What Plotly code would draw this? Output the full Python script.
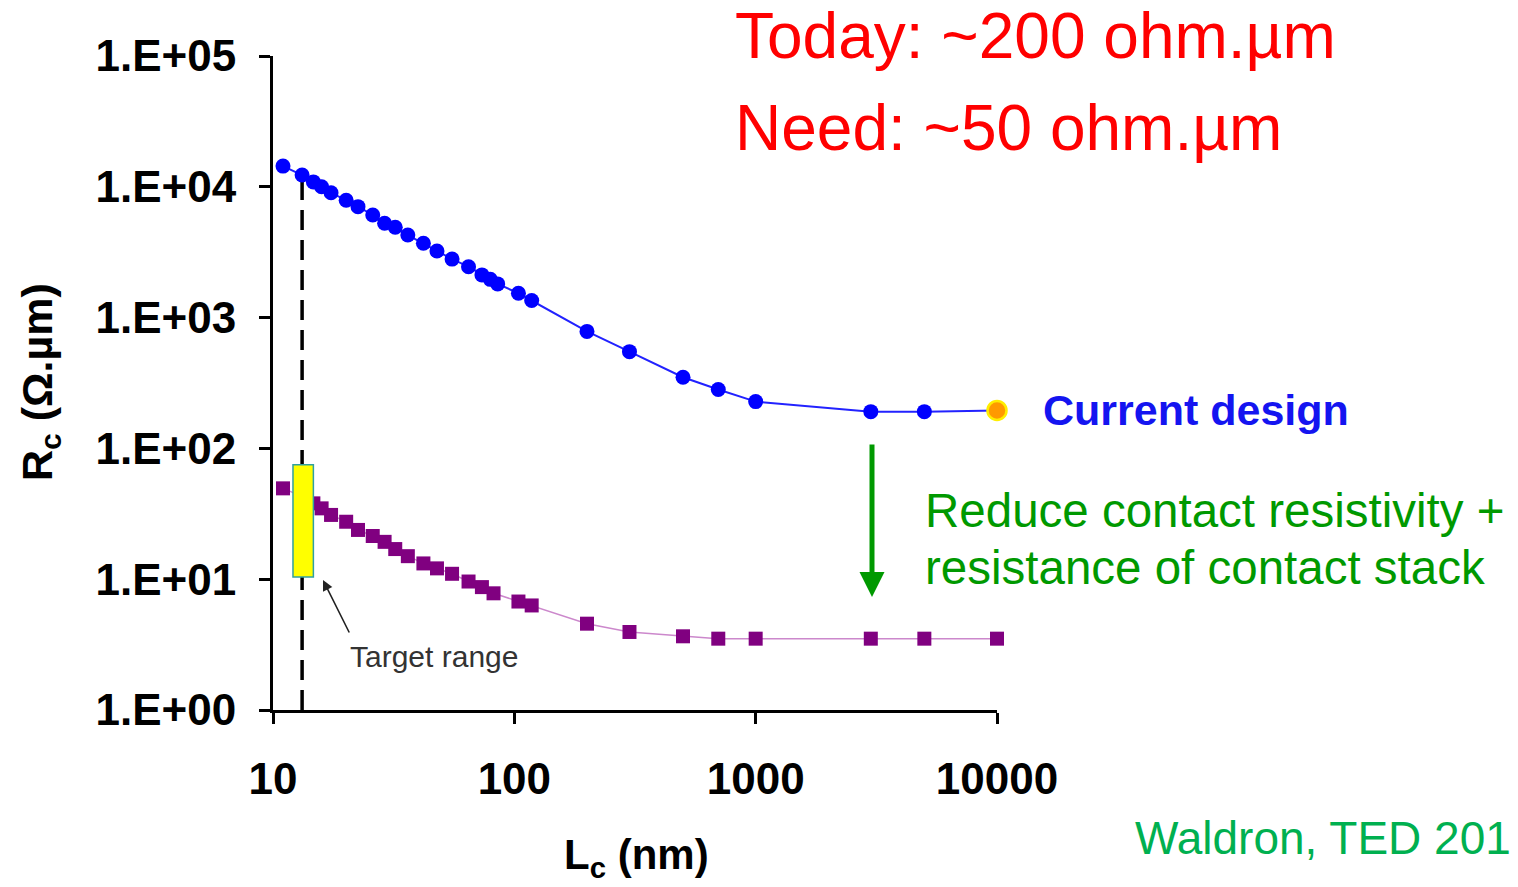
import plotly.graph_objects as go

# ---- data ----
lc_nm = [11, 13.2, 14.7, 15.9, 17.4, 20.1, 22.5, 25.9, 29, 32.1, 36.2, 42, 47.8, 55.2,
         64.6, 73.4, 79.5, 85.3, 104, 118, 200, 300, 500, 700, 1000, 3000, 5000, 10000]
rc_current = [14400, 12300, 10900, 10000, 9000, 7900, 7050, 6090, 5260, 4900, 4280, 3700,
              3230, 2800, 2450, 2120, 1960, 1810, 1535, 1350, 784, 549, 350, 282, 228,
              191, 191, 195]
lc_target = [11, 13.2, 14.7, 15.9, 17.4, 20.1, 22.5, 25.9, 29, 32.1, 36.2, 42, 47.8, 55.2,
             64.6, 73.4, 82, 104, 118, 200, 300, 500, 700, 1000, 3000, 5000, 10000]
rc_target = [49.5, 43, 38, 34.8, 31, 27.5, 23.8, 21.4, 19.3, 17, 15, 13.2, 12.1, 11,
             9.6, 8.7, 7.8, 6.75, 6.3, 4.57, 3.95, 3.66, 3.51, 3.51, 3.51, 3.51, 3.51]
target_lc = 13.2
target_range = [10.4, 75]
target_lc_span = [12.1, 14.7]

x_tickvals = [10, 100, 1000, 10000]
x_ticktext = ["10", "100", "1000", "10000"]
y_tickvals = [1, 10, 100, 1000, 10000, 100000]
y_ticktext = ["1.E+00", "1.E+01", "1.E+02", "1.E+03", "1.E+04", "1.E+05"]

FONT = "Arial, Liberation Sans, sans-serif"
W, H = 1518, 887
L, R, T, B = 273, 997, 56, 710


def px(xp, yp):
    return (xp - L) / (R - L), (B - yp) / (B - T)


fig = go.Figure()

n = len(rc_current)
mcol = ["#0000ff"] * (n - 1) + ["#ff9900"]
mline = ["#0000ff"] * (n - 1) + ["#ffee00"]
msize = [15] * (n - 1) + [19]
fig.add_trace(go.Scatter(
    x=lc_nm, y=rc_current, mode="lines+markers", cliponaxis=False, opacity=1,
    line=dict(color="#2222ff", width=2),
    marker=dict(symbol="circle", size=msize, color=mcol, opacity=1,
                line=dict(color=mline, width=[0] * (n - 1) + [2.5])),
    showlegend=False, hoverinfo="skip"))

fig.add_trace(go.Scatter(
    x=lc_target, y=rc_target, mode="lines+markers", cliponaxis=False, opacity=1,
    line=dict(color="#cc88cc", width=1.5),
    marker=dict(symbol="square", size=14, color="#800080", opacity=1,
                line=dict(width=0)),
    showlegend=False, hoverinfo="skip"))

# dashed vertical line
fig.add_shape(type="line", xref="x", yref="y", x0=target_lc, x1=target_lc,
              y0=1, y1=13400, line=dict(color="black", width=3.5, dash="20px,10px"),
              layer="below")
# yellow target bar
fig.add_shape(type="rect", xref="x", yref="y", x0=target_lc_span[0], x1=target_lc_span[1],
              y0=target_range[0], y1=target_range[1],
              fillcolor="#ffff00", line=dict(color="#30a0a0", width=1.5), layer="above")

ann = []


def text(s, xp, yp, size, color, bold=False, xanchor="left", angle=0):
    x, y = px(xp, yp)
    ann.append(dict(text=s, x=x, y=y, xref="paper", yref="paper", xanchor=xanchor,
                    yanchor="middle", showarrow=False, textangle=angle,
                    font=dict(family=FONT, size=size, color=color,
                              weight="bold" if bold else "normal")))


text("Today: ~200 ohm.µm", 733, 36, 64, "#ff0000")
text("Need: ~50 ohm.µm", 733, 128, 64, "#ff0000")
text("Current design", 1041, 410, 43, "#1414f0", bold=True)
text("Reduce contact resistivity +", 923, 510, 47.5, "#009900")
text("resistance of contact stack", 923, 567, 47.5, "#009900")
text("Waldron, TED 201", 1133, 838, 46, "#00b050")
text("Target range", 434, 656, 30, "#333333", xanchor="center")
text("R<sub>c</sub> (Ω.µm)", 40, 382, 43, "black", bold=True, xanchor="center", angle=-90)
text("L<sub>c</sub> (nm)", 636, 857, 42, "black", bold=True, xanchor="center")

# target-range arrow
hx, hy = px(323, 580)
ann.append(dict(text="", x=hx, y=hy, xref="paper", yref="paper", showarrow=True,
                ax=27, ay=54, arrowhead=2, arrowsize=1.3, arrowwidth=1.6,
                arrowcolor="#222222"))
# green arrow
gx, gy = px(872, 597)
ann.append(dict(text="", x=gx, y=gy, xref="paper", yref="paper", showarrow=True,
                ax=0, ay=-154, arrowhead=2, arrowsize=1.0, arrowwidth=5,
                arrowcolor="#009900"))

fig.update_layout(
    width=W, height=H, autosize=False,
    margin=dict(l=L, r=W - R, t=T, b=H - B, pad=0),
    paper_bgcolor="white", plot_bgcolor="white",
    annotations=ann,
    xaxis=dict(type="log", range=[1, 4], tickvals=x_tickvals, ticktext=x_ticktext,
               showgrid=False, zeroline=False, showline=True, linecolor="black",
               linewidth=3, ticks="outside", ticklen=11, tickwidth=2.5, tickcolor="black",
               ticklabelstandoff=17,
               tickfont=dict(family=FONT, size=44, color="black", weight="bold")),
    yaxis=dict(type="log", range=[0, 5], tickvals=y_tickvals, ticktext=y_ticktext,
               showgrid=False, zeroline=False, showline=True, linecolor="black",
               linewidth=3, ticks="outside", ticklen=11, tickwidth=2.5, tickcolor="black",
               ticklabelstandoff=14,
               tickfont=dict(family=FONT, size=44, color="black", weight="bold")),
)

fig.write_html("out.html")
